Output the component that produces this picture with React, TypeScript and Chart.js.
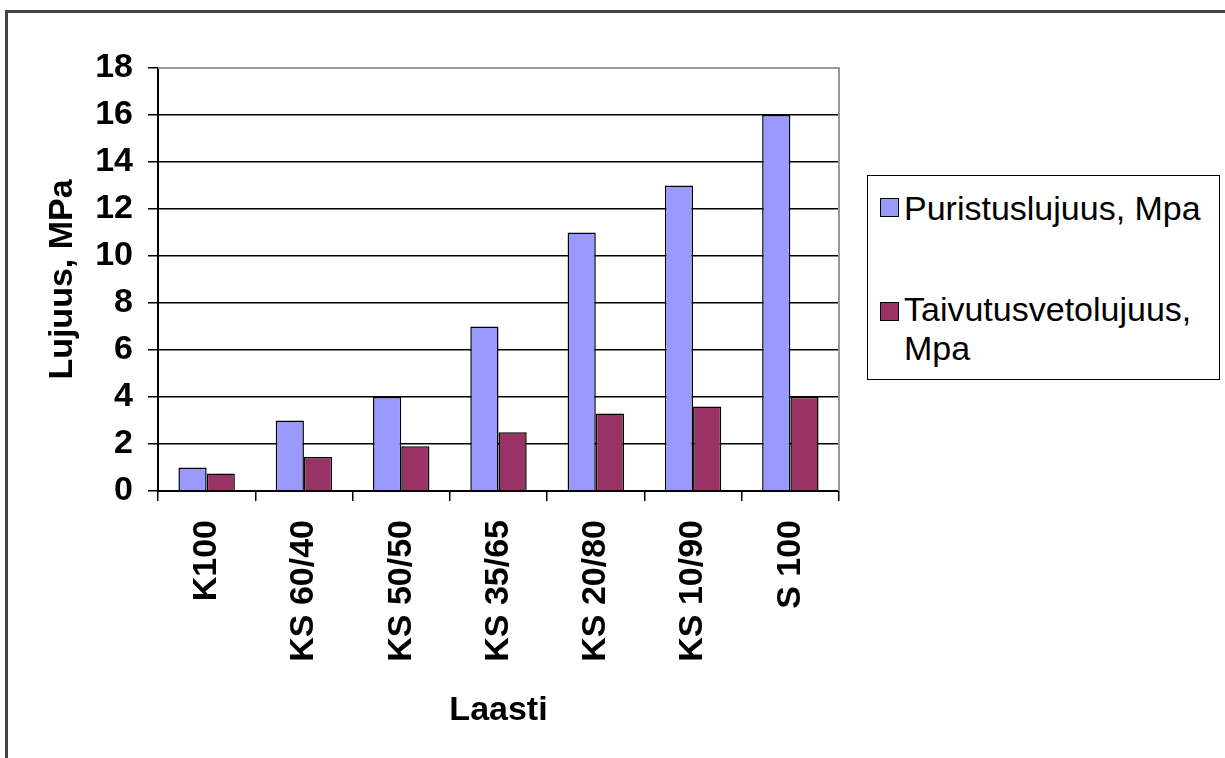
import React, { useEffect, useRef } from "react";
import { Chart, registerables } from "chart.js";

Chart.register(...registerables);

const categories = ["K100", "KS 60/40", "KS 50/50", "KS 35/65", "KS 20/80", "KS 10/90", "S 100"];
const puristus = [1, 3, 4, 7, 11, 13, 16];
const taivutus = [0.75, 1.45, 1.9, 2.5, 3.3, 3.6, 4.0];
const seriesNames = ["Puristuslujuus, Mpa", "Taivutusvetolujuus, Mpa"];
const legendLines = [["Puristuslujuus, Mpa"], ["Taivutusvetolujuus,", "Mpa"]];
const colors = ["#9999FF", "#993366"];
const yTitle = "Lujuus, MPa";
const xTitle = "Laasti";

const FONT = "'Liberation Sans', Arial, sans-serif";

export default function App() {
  const ref = useRef<HTMLCanvasElement>(null);

  useEffect(() => {
    if (!ref.current) return;
    const plotBorder = {
      id: "plotBorder",
      afterDatasetsDraw(chart: any) {
        const { ctx, chartArea } = chart;
        ctx.save();
        ctx.strokeStyle = "#999999";
        ctx.lineWidth = 2;
        ctx.beginPath();
        ctx.moveTo(chartArea.left, chartArea.top);
        ctx.lineTo(chartArea.right, chartArea.top);
        ctx.lineTo(chartArea.right, chartArea.bottom);
        ctx.stroke();
        ctx.restore();
      },
    };
    const chart = new Chart(ref.current, {
      type: "bar",
      data: {
        labels: categories,
        datasets: [
          {
            label: seriesNames[0],
            data: puristus,
            backgroundColor: colors[0],
            borderColor: "#000000",
            borderWidth: 1.5,
            barPercentage: 1,
            categoryPercentage: 0.58,
          },
          {
            label: seriesNames[1],
            data: taivutus,
            backgroundColor: colors[1],
            borderColor: "#000000",
            borderWidth: 1.5,
            barPercentage: 1,
            categoryPercentage: 0.58,
          },
        ],
      },
      options: {
        responsive: false,
        animation: false,
        maintainAspectRatio: false,
        layout: { padding: { left: 38, top: 68, right: 386, bottom: 0 } },
        plugins: { legend: { display: false }, tooltip: { enabled: false } },
        scales: {
          x: {
            grid: {
              drawOnChartArea: false,
              drawTicks: true,
              tickLength: 10,
              color: "#000000",
              lineWidth: 1.5,
            },
            border: { color: "#000000", width: 2 },
            ticks: {
              autoSkip: false,
              minRotation: 90,
              maxRotation: 90,
              padding: 19,
              color: "#000000",
              font: { family: FONT, size: 34, weight: "bold" },
            },
            title: {
              display: true,
              text: xTitle,
              color: "#000000",
              font: { family: FONT, size: 34, weight: "bold" },
              padding: { top: 0, bottom: 27 },
            },
            afterFit(scale: any) {
              scale.height = 267;
            },
          },
          y: {
            min: 0,
            max: 18,
            ticks: {
              stepSize: 2,
              padding: 15,
              color: "#000000",
              font: { family: FONT, size: 34, weight: "bold" },
            },
            grid: {
              color: (c: any) => (c.tick && c.tick.value === 18 ? "#999999" : "#000000"),
              lineWidth: 1.5,
              tickLength: 10,
              tickColor: "#000000",
            },
            border: { color: "#000000", width: 2 },
            title: {
              display: true,
              text: yTitle,
              color: "#000000",
              font: { family: FONT, size: 34, weight: "bold" },
              padding: { top: 4, bottom: 0 },
            },
            afterFit(scale: any) {
              scale.width = 120;
            },
          },
        },
      },
      plugins: [plotBorder],
    });
    return () => chart.destroy();
  }, []);

  const swatch = (color: string, top: number) => (
    <div
      style={{
        position: "absolute",
        left: 12,
        top,
        width: 19,
        height: 19,
        background: color,
        border: "1px solid #000",
        boxSizing: "border-box",
      }}
    />
  );

  return (
    <div
      style={{
        position: "fixed",
        left: 0,
        top: 0,
        width: 1225,
        height: 758,
        overflow: "hidden",
        background: "#ffffff",
      }}
    >
      <div
        style={{
          position: "absolute",
          left: 5,
          top: 10,
          width: 1400,
          height: 1000,
          borderTop: "3px solid #444",
          borderLeft: "3px solid #444",
        }}
      />
      <canvas ref={ref} width={1225} height={758} style={{ position: "absolute", left: 0, top: 0 }} />
      <div
        style={{
          position: "absolute",
          left: 867,
          top: 175,
          width: 353,
          height: 205,
          border: "1px solid #000",
          boxSizing: "border-box",
          background: "#fff",
          fontFamily: FONT,
          fontSize: 34,
          color: "#000",
        }}
      >
        {swatch(colors[0], 22)}
        <div style={{ position: "absolute", left: 36, top: 12, lineHeight: "40px", whiteSpace: "nowrap" }}>
          {legendLines[0][0]}
        </div>
        {swatch(colors[1], 126)}
        <div style={{ position: "absolute", left: 36, top: 114, lineHeight: "39px", whiteSpace: "nowrap" }}>
          {legendLines[1].map((l, i) => (
            <div key={i}>{l}</div>
          ))}
        </div>
      </div>
    </div>
  );
}
